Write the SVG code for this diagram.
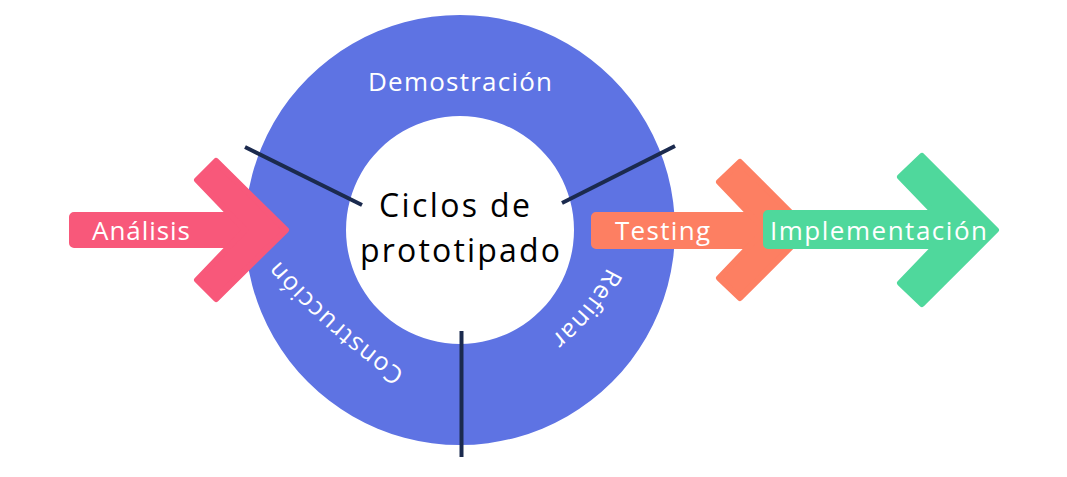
<svg xmlns="http://www.w3.org/2000/svg" width="1067" height="477" viewBox="0 0 1067 477">
  <style>
    .lbl { font-family: "Open Sans", "Liberation Sans", sans-serif; font-size: 26px; fill: #ffffff; }
    .ring-lbl { font-family: "Open Sans", "Liberation Sans", sans-serif; font-size: 25px; fill: #ffffff; }
    .center-lbl { font-family: "Open Sans", "Liberation Sans", sans-serif; font-size: 32px; fill: #000000; }
    .sep { stroke: #1b2a4e; stroke-width: 4; fill: none; }
    .pink { fill: #f8587a; stroke: #f8587a; stroke-width: 6; stroke-linejoin: round; }
    .orange { fill: #fd7f62; stroke: #fd7f62; stroke-width: 6; stroke-linejoin: round; }
    .green { fill: #4fd89c; stroke: #4fd89c; stroke-width: 6; stroke-linejoin: round; }
  </style>
  <defs>
    <path id="pathConstruccion" d="M 423 384 A 700 700 0 0 1 264 243"/>
    <path id="pathRefinar" d="M 613 254.5 A 200 200 0 0 1 538.4 346.2"/>
  </defs>
  <rect width="1067" height="477" fill="#ffffff"/>

  <g id="ciclo">
    <path d="M 460 15 A 215 215 0 1 1 459.99 15 Z M 460 116 A 114 114 0 1 0 460.01 116 Z" fill="#5e73e3" fill-rule="evenodd"/>
    <text class="lbl" x="460" y="91" text-anchor="middle" textLength="184" lengthAdjust="spacing">Demostración</text>
    <text class="ring-lbl" letter-spacing="1.4"><textPath href="#pathConstruccion" startOffset="50%" text-anchor="middle">Construcción</textPath></text>
    <text class="ring-lbl" letter-spacing="1.2"><textPath href="#pathRefinar" startOffset="50%" text-anchor="middle">Refinar</textPath></text>
    <text class="center-lbl" x="379" y="217" textLength="151" lengthAdjust="spacing">Ciclos de</text>
    <text class="center-lbl" x="360" y="262" textLength="200" lengthAdjust="spacing">prototipado</text>
  </g>

  <g id="connectors">
    <line class="sep" x1="245" y1="147" x2="362" y2="205"/>
    <line class="sep" x1="675" y1="146" x2="562" y2="203"/>
    <line class="sep" x1="461.5" y1="331" x2="461.5" y2="457"/>
  </g>

  <g id="analisis">
    <rect x="72" y="215" width="185" height="30" rx="2" class="pink"/>
    <polygon class="pink" points="197,180 216,161 286,230 216,299 197,280 245,230"/>
    <text class="lbl" x="92" y="240" textLength="98" lengthAdjust="spacing">Análisis</text>
  </g>

  <g id="testing">
    <rect x="594" y="215" width="185" height="31" rx="2" class="orange"/>
    <polygon class="orange" points="719,182 740,162 808,230 740,298 719,278 765,230"/>
    <text class="lbl" x="615" y="240" textLength="95" lengthAdjust="spacing">Testing</text>
  </g>

  <g id="implementacion">
    <rect x="766" y="213" width="190" height="33" rx="2" class="green"/>
    <polygon class="green" points="900,177 922,156 996,230 922,304 900,283 951,230"/>
    <text class="lbl" x="770" y="240" textLength="217" lengthAdjust="spacing">Implementación</text>
  </g>
</svg>
